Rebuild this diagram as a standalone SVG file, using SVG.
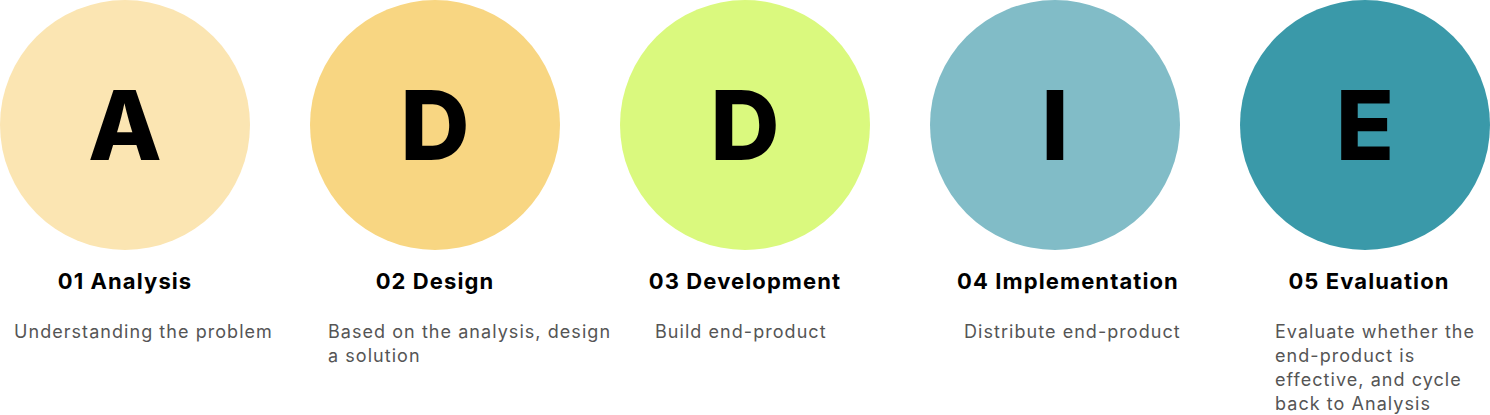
<svg xmlns="http://www.w3.org/2000/svg" width="1490" height="415" viewBox="0 0 1490 415">
<style>
.letter{font-family:Inter,"Liberation Sans",sans-serif;font-weight:800;font-size:96px;fill:#000;text-anchor:middle}
.title{font-family:Inter,"Liberation Sans",sans-serif;font-weight:700;font-size:22px;letter-spacing:1.1px;fill:#000;text-anchor:middle}
.body{font-family:Inter,"Liberation Sans",sans-serif;font-weight:400;font-size:18px;letter-spacing:1.05px;fill:#555}
</style>
<rect width="1490" height="415" fill="#fff"/>
<g id="analysis">
<circle cx="125" cy="125" r="125" fill="#FBE5B2"/>
<text class="letter" x="125" y="160">A</text>
<text class="title" x="125" y="289">01 Analysis</text>
<text class="body" x="14" y="338">Understanding the problem</text>
</g>
<g id="design">
<circle cx="435" cy="125" r="125" fill="#F8D682"/>
<text class="letter" x="435" y="160">D</text>
<text class="title" x="435" y="289">02 Design</text>
<text class="body" x="328" y="338">Based on the analysis, design</text>
<text class="body" x="328" y="362">a solution</text>
</g>
<g id="development">
<circle cx="745" cy="125" r="125" fill="#DAF97E"/>
<text class="letter" x="745" y="160">D</text>
<text class="title" x="745" y="289">03 Development</text>
<text class="body" x="655" y="338">Build end-product</text>
</g>
<g id="implementation">
<circle cx="1055" cy="125" r="125" fill="#81BCC7"/>
<text class="letter" x="1055" y="160">I</text>
<text class="title" x="1068" y="289">04 Implementation</text>
<text class="body" x="964" y="338">Distribute end-product</text>
</g>
<g id="evaluation">
<circle cx="1365" cy="125" r="125" fill="#3A99A9"/>
<text class="letter" x="1365" y="160">E</text>
<text class="title" x="1369" y="289">05 Evaluation</text>
<text class="body" x="1275" y="338">Evaluate whether the</text>
<text class="body" x="1275" y="362">end-product is</text>
<text class="body" x="1275" y="386">effective, and cycle</text>
<text class="body" x="1275" y="410">back to Analysis</text>
</g>
<g id="connectors"></g>
</svg>
